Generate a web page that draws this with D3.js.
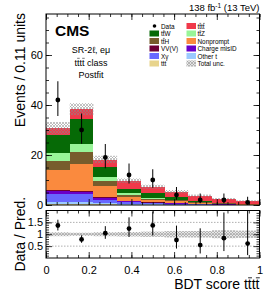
<!DOCTYPE html>
<html lang="en">
<head>
<meta charset="utf-8" />
<title>BDT score tttt – postfit</title>
<script src="https://d3js.org/d3.v7.min.js"></script>
<style>
  body { margin: 0; background: #fff; }
  svg  { display: block; font-family: "Liberation Sans", Arial, Helvetica, sans-serif; }
</style>
</head>
<body>
<svg id="chart" width="266" height="293"></svg>
<script>
// ---- data (9 bins of BDT score, width 1/9) ----
const binEdges = [0, 1/9, 2/9, 3/9, 4/9, 5/9, 6/9, 7/9, 8/9, 1];

// stacked processes, bottom -> top
const ttt         = [0.5, 0.5, 0.3, 0.15, 0.1, 0.08, 0.05, 0.03, 0.02];
const otherT      = [0.7, 0.8, 0.5, 0.3, 0.2, 0.1, 0.08, 0.05, 0.03];
const xGamma      = [3.1, 3.0, 1.4, 0.7, 0.4, 0.3, 0.15, 0.08, 0.05];
const chargeMisID = [1.4, 1.0, 0.6, 0.4, 0.3, 0.25, 0.15, 0.1, 0.05];
const vvv         = [0.3, 0.3, 0.3, 0.15, 0.1, 0.05, 0.05, 0.03, 0.02];
const nonprompt   = [8.0, 11.0, 4.4, 1.7, 1.0, 0.9, 0.5, 0.3, 0.2];
const ttH         = [3.6, 4.6, 2.0, 0.7, 0.3, 0.2, 0.12, 0.07, 0.05];
const ttZ         = [3.1, 3.4, 1.7, 0.6, 0.3, 0.2, 0.08, 0.04, 0.03];
const ttW         = [7.3, 9.7, 4.0, 1.6, 2.0, 1.0, 0.3, 0.2, 0.1];
const tttt        = [2.7, 4.0, 3.0, 3.4, 2.6, 2.2, 2.2, 1.5, 1.1];
const totalUnc    = [2.5, 2.4, 1.5, 0.9, 0.8, 0.7, 0.5, 0.4, 0.25];

const dataObs   = [42, 30, 19, 12, 10, 4, 2, 2, 1];
const dataErrLo = [35.6, 24.5, 14.7, 8.6, 6.9, 2.1, 0.7, 0.7, 0.2];
const dataErrHi = [49.5, 36.6, 24.4, 16.6, 14.3, 7.2, 4.6, 4.6, 3.3];

const upperTicks = [0, 20, 40, 60];
const ratioTicks = [0.5, 1, 1.5];
const xTicks     = [0, 0.2, 0.4, 0.6, 0.8, 1];

// processes in stacking order with colours
const processes = [
  { key: "ttt",   vals: ttt,         color: "#e8d48c" },
  { key: "otht",  vals: otherT,      color: "#9ccaff" },
  { key: "xg",    vals: xGamma,      color: "#6868ff" },
  { key: "cmid",  vals: chargeMisID, color: "#6a00c8" },
  { key: "vvv",   vals: vvv,         color: "#6e0036" },
  { key: "np",    vals: nonprompt,   color: "#fa8a3e" },
  { key: "tth",   vals: ttH,         color: "#775c2c" },
  { key: "ttz",   vals: ttZ,         color: "#98f598" },
  { key: "ttw",   vals: ttW,         color: "#066a06" },
  { key: "tttt",  vals: tttt,        color: "#f0394a" }
];

// ---- layout ----
const svg = d3.select("#chart");
const xL = 46, xR = 259.5;
const upTop = 14, upBot = 205;
const loTop = 210.5, loBot = 258;

const x  = d3.scaleLinear().domain([0, 1]).range([xL, xR]);
const y  = d3.scaleLinear().domain([0, 76.4]).range([upBot, upTop]);
const yr = d3.scaleLinear().domain([0, 2.0]).range([loBot, loTop]);

// hatch pattern for total unc.
const defs = svg.append("defs");
const pat = defs.append("pattern").attr("id", "hatch")
  .attr("patternUnits", "userSpaceOnUse").attr("width", 3).attr("height", 3);
pat.append("path").attr("d", "M0,3 L3,0 M0,0 L3,3")
  .attr("stroke", "#8a8a8a").attr("stroke-width", 0.7).attr("opacity", 0.75);

defs.append("clipPath").attr("id", "clipUp").append("rect")
  .attr("x", xL).attr("y", upTop).attr("width", xR - xL).attr("height", upBot - upTop);
defs.append("clipPath").attr("id", "clipLo").append("rect")
  .attr("x", xL).attr("y", loTop).attr("width", xR - xL).attr("height", loBot - loTop);

const nb = dataObs.length;
const bins = d3.range(nb).map(i => ({ i, x0: binEdges[i], x1: binEdges[i + 1], xc: (binEdges[i] + binEdges[i + 1]) / 2 }));

// stack
const stackRows = bins.map(b => {
  const r = { i: b.i };
  processes.forEach(p => r[p.key] = p.vals[b.i]);
  return r;
});
const stacked = d3.stack().keys(processes.map(p => p.key))(stackRows);
const pred = bins.map(b => d3.sum(processes, p => p.vals[b.i]));

// ---- upper panel ----
const up = svg.append("g").attr("clip-path", "url(#clipUp)");
stacked.forEach((layer, li) => {
  up.append("g").selectAll("rect").data(layer).enter().append("rect")
    .attr("x", (d, i) => x(bins[i].x0))
    .attr("width", (d, i) => x(bins[i].x1) - x(bins[i].x0))
    .attr("y", d => y(d[1]))
    .attr("height", d => Math.max(0, y(d[0]) - y(d[1])))
    .attr("fill", processes[li].color)
    .attr("shape-rendering", "crispEdges");
});
up.append("g").selectAll("rect").data(bins).enter().append("rect")
  .attr("x", d => x(d.x0)).attr("width", d => x(d.x1) - x(d.x0))
  .attr("y", d => y(pred[d.i] + totalUnc[d.i]))
  .attr("height", d => y(pred[d.i] - totalUnc[d.i]) - y(pred[d.i] + totalUnc[d.i]))
  .attr("fill", "url(#hatch)");

// data points
const dg = svg.append("g");
dg.selectAll("line").data(bins).enter().append("line")
  .attr("x1", d => x(d.xc)).attr("x2", d => x(d.xc))
  .attr("y1", d => y(dataErrLo[d.i])).attr("y2", d => y(dataErrHi[d.i]))
  .attr("stroke", "#000").attr("stroke-width", 1);
dg.selectAll("circle").data(bins).enter().append("circle")
  .attr("cx", d => x(d.xc)).attr("cy", d => y(dataObs[d.i])).attr("r", 2.4).attr("fill", "#000");

// ---- lower panel ----
const lo = svg.append("g").attr("clip-path", "url(#clipLo)");
lo.selectAll("line.grid").data(ratioTicks).enter().append("line")
  .attr("x1", xL).attr("x2", xR).attr("y1", d => yr(d)).attr("y2", d => yr(d))
  .attr("stroke", "#9a9a9a").attr("stroke-width", 0.8).attr("stroke-dasharray", "1.5,1.5");
lo.append("g").selectAll("rect").data(bins).enter().append("rect")
  .attr("x", d => x(d.x0)).attr("width", d => x(d.x1) - x(d.x0))
  .attr("y", d => yr(1 + totalUnc[d.i] / pred[d.i]))
  .attr("height", d => yr(1 - totalUnc[d.i] / pred[d.i]) - yr(1 + totalUnc[d.i] / pred[d.i]))
  .attr("fill", "#d8d8d8").attr("opacity", 0.6);
lo.append("g").selectAll("rect").data(bins).enter().append("rect")
  .attr("x", d => x(d.x0)).attr("width", d => x(d.x1) - x(d.x0))
  .attr("y", d => yr(1 + totalUnc[d.i] / pred[d.i]))
  .attr("height", d => yr(1 - totalUnc[d.i] / pred[d.i]) - yr(1 + totalUnc[d.i] / pred[d.i]))
  .attr("fill", "url(#hatch)");

const rg = svg.append("g").attr("clip-path", "url(#clipLo)");
rg.selectAll("line").data(bins).enter().append("line")
  .attr("x1", d => x(d.xc)).attr("x2", d => x(d.xc))
  .attr("y1", d => yr(dataErrLo[d.i] / pred[d.i])).attr("y2", d => yr(dataErrHi[d.i] / pred[d.i]))
  .attr("stroke", "#000").attr("stroke-width", 1);
rg.selectAll("circle").data(bins).enter().append("circle")
  .attr("cx", d => x(d.xc)).attr("cy", d => yr(dataObs[d.i] / pred[d.i])).attr("r", 2.4).attr("fill", "#000");

// ---- axes (ticks inside, CMS style) ----
function styleAxis(g, fs) {
  g.attr("font-family", null).attr("font-size", fs);
  g.select(".domain").remove();
  g.selectAll("line").attr("stroke", "#000").attr("stroke-width", 0.8);
  g.selectAll("text").attr("fill", "#000");
}
const xMinor = d3.range(0, 1.0001, 0.05);

function xAxes(yTop, yBot, labels) {
  svg.append("g").attr("transform", `translate(0,${yBot})`)
    .call(d3.axisBottom(x).tickValues(xMinor).tickSize(-3).tickFormat(""))
    .call(g => styleAxis(g, 0));
  const b = svg.append("g").attr("transform", `translate(0,${yBot})`)
    .call(d3.axisBottom(x).tickValues(xTicks).tickSize(-6).tickPadding(5)
      .tickFormat(labels ? d3.format("~g") : ""))
    .call(g => styleAxis(g, 11));
  b.selectAll("text").attr("y", 8);
  svg.append("g").attr("transform", `translate(0,${yTop})`)
    .call(d3.axisTop(x).tickValues(xMinor).tickSize(-3).tickFormat(""))
    .call(g => styleAxis(g, 0));
  svg.append("g").attr("transform", `translate(0,${yTop})`)
    .call(d3.axisTop(x).tickValues(xTicks).tickSize(-6).tickFormat(""))
    .call(g => styleAxis(g, 0));
}
xAxes(upTop, upBot, false);
xAxes(loTop, loBot, true);

function yAxes(scale, major, minor, fmt) {
  svg.append("g").attr("transform", `translate(${xL},0)`)
    .call(d3.axisLeft(scale).tickValues(minor).tickSize(-3).tickFormat(""))
    .call(g => styleAxis(g, 0));
  svg.append("g").attr("transform", `translate(${xL},0)`)
    .call(d3.axisLeft(scale).tickValues(major).tickSize(-6).tickPadding(3).tickFormat(fmt))
    .call(g => styleAxis(g, 11));
  svg.append("g").attr("transform", `translate(${xR},0)`)
    .call(d3.axisRight(scale).tickValues(minor).tickSize(-3).tickFormat(""))
    .call(g => styleAxis(g, 0));
  svg.append("g").attr("transform", `translate(${xR},0)`)
    .call(d3.axisRight(scale).tickValues(major).tickSize(-6).tickFormat(""))
    .call(g => styleAxis(g, 0));
}
yAxes(y, upperTicks, d3.range(0, 76, 5), d3.format("d"));
yAxes(yr, ratioTicks, d3.range(0.1, 2.0, 0.1), d3.format("~g"));

// frames
[[upTop, upBot], [loTop, loBot]].forEach(([t, b]) => {
  svg.append("rect").attr("x", xL).attr("y", t).attr("width", xR - xL).attr("height", b - t)
    .attr("fill", "none").attr("stroke", "#000").attr("stroke-width", 1);
});

// ---- text helper: "t~" => t with a bar drawn over it ----
function richText(sel, str, fs) {
  sel.attr("font-size", fs);
  const parts = str.split(/(t~)/).filter(s => s.length);
  const bars = [];
  parts.forEach(p => {
    if (p === "t~") bars.push(sel.append("tspan").text("t").node());
    else sel.append("tspan").text(p);
  });
  const node = sel.node();
  const yb = +sel.attr("y");
  bars.forEach(n => {
    const s = n.getStartPositionOfChar(0), e = n.getEndPositionOfChar(0);
    svg.append("line").attr("x1", s.x + fs * 0.02).attr("x2", e.x + fs * 0.02)
      .attr("y1", yb - fs * 0.8).attr("y2", yb - fs * 0.8)
      .attr("stroke", "#000").attr("stroke-width", Math.max(0.5, fs * 0.06));
  });
  return sel;
}

// axis titles
richText(svg.append("text").attr("x", xR).attr("y", 289).attr("text-anchor", "end"),
  "BDT score tt~tt~", 14);
svg.append("text").attr("transform", `translate(25,13) rotate(-90)`)
  .attr("text-anchor", "end").attr("font-size", 14).text("Events / 0.11 units");
svg.append("text").attr("transform", `translate(25,${(loTop + loBot) / 2}) rotate(-90)`)
  .attr("text-anchor", "middle").attr("font-size", 14).text("Data / Pred.");

// lumi label
const lumi = svg.append("text").attr("x", xR).attr("y", 11).attr("text-anchor", "end").attr("font-size", 9.5);
lumi.append("tspan").text("138 fb");
lumi.append("tspan").attr("font-size", 6.5).attr("dy", -3.5).text("-1");
lumi.append("tspan").attr("dy", 3.5).text(" (13 TeV)");

// CMS + region
svg.append("text").attr("x", 55).attr("y", 36).attr("font-size", 15.5).attr("font-weight", "bold").text("CMS");
const infoLines = ["SR-2\u2113, e\u03bc", "tt~tt~ class", "Postfit"];
infoLines.forEach((s, i) => {
  richText(svg.append("text").attr("x", 91).attr("y", 53 + i * 12.5).attr("text-anchor", "middle"), s, 9);
});

// ---- legend ----
const legendLeft  = [["Data", null], ["tt~W", "ttw"], ["tt~H", "tth"], ["VV(V)", "vvv"], ["X\u03b3", "xg"], ["ttt", "ttt"]];
const legendRight = [["tt~tt~", "tttt"], ["tt~Z", "ttz"], ["Nonprompt", "np"], ["Charge misID", "cmid"], ["Other t", "otht"], ["Total unc.", "unc"]];
const colorOf = Object.fromEntries(processes.map(p => [p.key, p.color]));
const legRowY = d3.range(6).map(i => 23 + i * 7.5);

function legendCol(items, sx, tx) {
  items.forEach(([lab, key], i) => {
    const yy = legRowY[i];
    if (key === null) {
      svg.append("circle").attr("cx", sx + 5).attr("cy", yy + 3).attr("r", 1.8).attr("fill", "#000");
    } else if (key === "unc") {
      svg.append("rect").attr("x", sx).attr("y", yy).attr("width", 9.5).attr("height", 6).attr("fill", "#e4e4e4");
      svg.append("rect").attr("x", sx).attr("y", yy).attr("width", 9.5).attr("height", 6).attr("fill", "url(#hatch)");
    } else {
      svg.append("rect").attr("x", sx).attr("y", yy).attr("width", 9.5).attr("height", 6).attr("fill", colorOf[key]);
    }
    richText(svg.append("text").attr("x", tx).attr("y", yy + 5.5), lab, 6.4);
  });
}
legendCol(legendLeft, 149.5, 161);
legendCol(legendRight, 186.5, 197.5);
</script>
</body>
</html>
